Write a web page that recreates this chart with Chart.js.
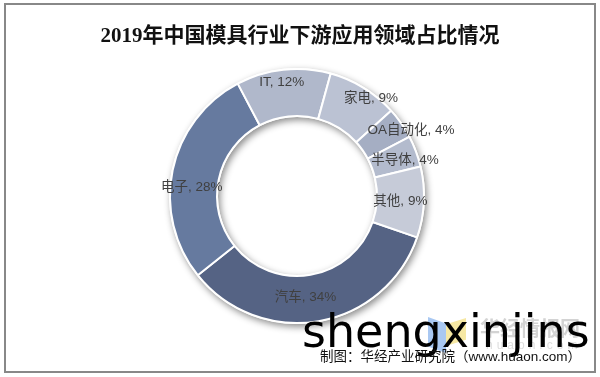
<!DOCTYPE html>
<html>
<head>
<meta charset="utf-8">
<script src="https://cdn.jsdelivr.net/npm/chart.js@4.4.1/dist/chart.umd.min.js"></script>
<style>
    html, body { margin: 0; padding: 0; background: #fff; }
    #wrap { position: relative; width: 600px; height: 377px; overflow: hidden; }
    #frame { position: absolute; left: 4px; top: 3px; width: 588px; height: 366px; border: 2px solid #888; }
    #title { position: absolute; left: 0; top: 18px; width: 600px; text-align: center; line-height: 24px;
             font: bold 21px "Liberation Serif", "Noto Sans CJK SC", serif; color: #111; }
    #chart { position: absolute; left: 0; top: 0; }
    .logo { position: absolute; }
    #logoBlue { left: 428px; top: 317px; width: 18px; height: 36px; background: #a9c8f2;
                clip-path: polygon(0 0, 100% 18%, 100% 100%, 0 82%); }
    #logoYellow { left: 446px; top: 318px; width: 20px; height: 28px; background: #f6e8a4;
                  clip-path: polygon(0 22%, 100% 0, 100% 78%, 0 100%); }
    #logoText { left: 480px; top: 316px; font: bold 20px "Noto Sans CJK SC", sans-serif; line-height: 24px; color: #d3d3d3; }
    #logoUrl { left: 486px; top: 338px; font: 12px "Liberation Sans", sans-serif; letter-spacing: 4px; color: #dedede; }
    #stamp { position: absolute; left: 302px; top: 308px; font: 46px "DejaVu Sans", sans-serif; line-height: 46px; color: #000; }
    #source { position: absolute; left: 320px; top: 348px; font: 13.5px "Liberation Sans", "Noto Sans CJK SC", sans-serif;
              line-height: 18px; color: #111; white-space: nowrap; }
</style>
</head>
<body>
<div id="wrap">
    <canvas id="chart" width="600" height="377"></canvas>
    <div id="frame"></div>
    <div id="title">2019年中国模具行业下游应用领域占比情况</div>
    <div class="logo" id="logoBlue"></div>
    <div class="logo" id="logoYellow"></div>
    <div class="logo" id="logoText">华经情报网</div>
    <div class="logo" id="logoUrl">huaon.com</div>
    <div id="stamp">shengxinjins</div>
    <div id="source">制图：华经产业研究院（www.huaon.com）</div>
</div>
<script>
// downstream sectors and their share (%)
const categories = ['汽车', '电子', 'IT', '家电', 'OA自动化', '半导体', '其他'];
const shares = [34, 28, 12, 9, 4, 4, 9];

const sliceColors = ['#556384', '#667a9f', '#b0b8cb', '#bbc2d3', '#a5aec3', '#b3bbcd', '#c6cbd8'];
// label nudges: [radial px, degrees] from the middle of each slice
const labelNudge = [[-2, 5], [2, -7], [11, -1.5], [19, 5.5], [28, 5], [10, 2.5], [0, 0]];

// soft shadow under the whole ring
const ringShadow = {
    id: 'ringShadow',
    beforeDatasetsDraw(chart) {
        const arc = chart.getDatasetMeta(0).data[0];
        if (!arc) return;
        const { x, y, innerRadius, outerRadius } = arc.getProps(['x', 'y', 'innerRadius', 'outerRadius'], true);
        const ctx = chart.ctx;
        ctx.save();
        ctx.shadowColor = 'rgba(0, 0, 0, 0.45)';
        ctx.shadowBlur = 7;
        ctx.shadowOffsetX = 2;
        ctx.shadowOffsetY = 3;
        ctx.fillStyle = '#fff';
        ctx.beginPath();
        ctx.arc(x, y, outerRadius + 1, 0, Math.PI * 2);
        ctx.arc(x, y, innerRadius - 1, Math.PI * 2, 0, true);
        ctx.fill('evenodd');
        ctx.restore();
    }
};

const sliceLabels = {
    id: 'sliceLabels',
    afterDatasetsDraw(chart) {
        const ctx = chart.ctx;
        ctx.save();
        ctx.font = '13.5px "Liberation Sans", "Noto Sans CJK SC", sans-serif';
        ctx.fillStyle = '#404040';
        ctx.textAlign = 'center';
        ctx.textBaseline = 'middle';
        chart.getDatasetMeta(0).data.forEach((arc, i) => {
            const p = arc.getProps(['x', 'y', 'startAngle', 'endAngle', 'innerRadius', 'outerRadius'], true);
            const n = labelNudge[i];
            const a = (p.startAngle + p.endAngle) / 2 + n[1] * Math.PI / 180;
            const r = (p.innerRadius + p.outerRadius) / 2 + n[0];
            ctx.fillText(categories[i] + ', ' + shares[i] + '%', p.x + Math.cos(a) * r, p.y + Math.sin(a) * r);
        });
        ctx.restore();
    }
};

const ctx = document.getElementById('chart').getContext('2d');
const myChart = new Chart(ctx, {
    type: 'doughnut',
    data: {
        labels: categories,
        datasets: [{
            data: shares,
            backgroundColor: sliceColors,
            borderColor: '#fff',
            borderWidth: 2,
            hoverOffset: 0
        }]
    },
    options: {
        responsive: false,
        animation: false,
        rotation: 109,
        cutout: '63%',
        layout: {
            padding: { left: 169, right: 175, top: 68, bottom: 53 }
        },
        plugins: {
            legend: { display: false },
            tooltip: { enabled: false }
        }
    },
    plugins: [ringShadow, sliceLabels]
});
</script>
</body>
</html>
